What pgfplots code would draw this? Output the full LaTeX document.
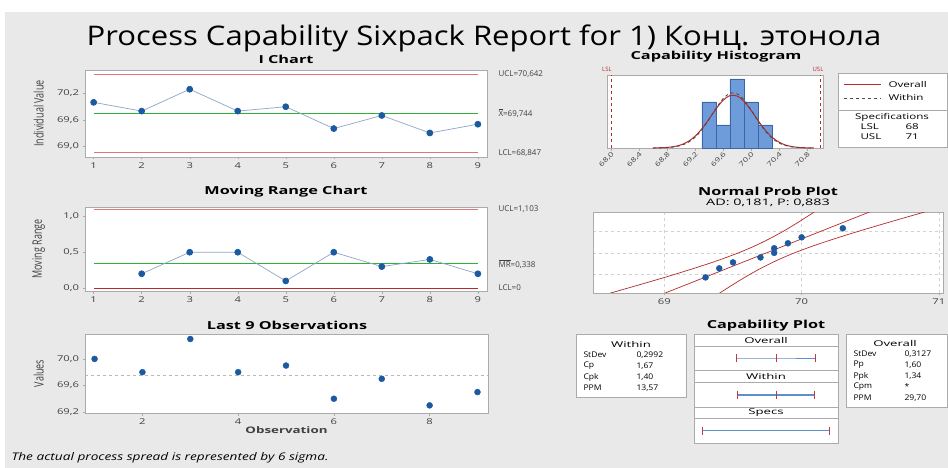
\documentclass[border=0pt]{standalone}
\usepackage{pgfplots}
\pgfplotsset{compat=1.18}
\usepackage{pgfplotstable}
\usepackage{graphicx}
\usepackage{fontspec}
\setmainfont{Open Sans}
\newfontfamily\titlefont{Open Sans}[FakeStretch=1.15]
\newfontfamily\panelfont{Open Sans}[FakeStretch=1.48]
\newfontfamily\tickfont{Open Sans}[FakeStretch=1.4]
\newfontfamily\legfont{Open Sans}[FakeStretch=1.45]
\newfontfamily\hdrfont{Open Sans}[FakeStretch=1.65]
\newfontfamily\notefont{Open Sans}[FakeStretch=1.3]
\newfontfamily\adfont{Open Sans}[FakeStretch=1.6]
\newfontfamily\statfont{Open Sans}[FakeStretch=1.1]

\definecolor{bgpanel}{RGB}{233,233,233}
\definecolor{framec}{RGB}{171,171,171}
\definecolor{ptc}{RGB}{27,90,160}
\definecolor{linkc}{RGB}{142,166,198}
\definecolor{limc}{RGB}{224,117,117}
\definecolor{meangreen}{RGB}{45,178,55}
\definecolor{barc}{RGB}{110,155,218}
\definecolor{baredge}{RGB}{63,100,163}
\definecolor{fitc}{RGB}{181,43,43}
\definecolor{withinc}{RGB}{74,74,74}
\definecolor{capc}{RGB}{94,143,203}
\definecolor{captick}{RGB}{194,59,59}
\definecolor{meanc}{RGB}{184,184,184}
\definecolor{tickc}{RGB}{64,64,64}

\newcommand{\ticksize}{\tickfont\fontsize{8}{9}\selectfont}
\newcommand{\limsize}{\fontsize{8}{9}\selectfont}
\newcommand{\ptitle}{\panelfont\fontsize{11}{12}\selectfont\bfseries}
\newcommand{\legt}{\legfont\fontsize{8}{9}\selectfont}
\newcommand{\hdrt}{\hdrfont\fontsize{8}{9}\selectfont}
\newcommand{\statt}{\statfont\fontsize{7.8}{9}\selectfont}
\newcommand{\ylab}[1]{\scalebox{1}[1.45]{#1}}

\pgfplotsset{
  panel/.style={
    scale only axis, anchor=north west,
    axis background/.style={fill=white},
    axis line style={framec},
    every tick/.style={framec},
    tick align=outside, tick pos=left,
    major tick length=2.5pt,
    ticklabel style={font=\ticksize, text=tickc},
    /pgf/number format/assume math mode=true,
    label style={font=\fontsize{9}{10}\selectfont, text=tickc},
  },
  onedec/.style={/pgf/number format/.cd, fixed, fixed zerofill, precision=1, use comma},
  ptmark/.style={mark=*, mark size=3pt, mark options={draw=ptc, fill=ptc}},
  centerline/.style={draw=meangreen, line width=1.2pt, mark=none},
}

% individual observations
\pgfplotstableread{
obs value
1 70.0
2 69.8
3 70.3
4 69.8
5 69.9
6 69.4
7 69.7
8 69.3
9 69.5
}\obsdata

% moving ranges of consecutive observations
\pgfplotstableread{
obs mr
2 0.2
3 0.5
4 0.5
5 0.1
6 0.5
7 0.3
8 0.4
9 0.2
}\mrdata

\begin{document}
\begin{tikzpicture}
% page background
\fill[white] (0pt,0pt) rectangle (948pt,-468pt);
\fill[bgpanel] (5pt,-12pt) rectangle (948pt,-468pt);

\node[font=\titlefont\fontsize{27}{31}\selectfont] at (484pt,-38pt)
  {Process Capability Sixpack Report for 1) Конц. этонола};

% ---------------- I chart ----------------
\node[font=\ptitle] at (286pt,-59pt) {I Chart};
\begin{axis}[panel, at={(85pt,-70pt)}, width=402pt, height=87pt,
  xmin=0.82, xmax=9.19, ymin=68.75, ymax=70.74,
  xtick={1,...,9}, ytick={69.0,69.6,70.2},
  yticklabel style={onedec},
  ylabel={\ylab{Individual Value}},
  ylabel style={at={(axis description cs:-0.115,0.5)}, anchor=center},
]
\addplot[draw=limc, line width=0.8pt, mark=none] coordinates {(1,70.642) (9,70.642)};
\addplot[draw=limc, line width=0.8pt, mark=none] coordinates {(1,68.847) (9,68.847)};
\addplot[centerline] coordinates {(1,69.744) (9,69.744)};
\addplot[draw=linkc, line width=0.7pt, ptmark] table[x=obs, y=value] {\obsdata};
\end{axis}
\node[font=\limsize, text=tickc, anchor=west] at (495pt,-74pt) {UCL=70,642};
\node[font=\limsize, text=tickc, anchor=west] at (495pt,-113pt) {$\overline{\mbox{X}}$=69,744};
\node[font=\limsize, text=tickc, anchor=west] at (495pt,-153pt) {LCL=68,847};

% ---------------- Moving range chart ----------------
\node[font=\ptitle] at (286pt,-192pt) {Moving Range Chart};
\begin{axis}[panel, at={(85pt,-207pt)}, width=402pt, height=84pt,
  xmin=0.82, xmax=9.19, ymin=-0.04, ymax=1.13,
  xtick={1,...,9}, ytick={0,0.5,1},
  yticklabel style={onedec},
  ylabel={\ylab{Moving Range}},
  ylabel style={at={(axis description cs:-0.115,0.5)}, anchor=center},
]
\addplot[draw=limc, line width=0.8pt, mark=none] coordinates {(1,1.103) (9,1.103)};
\addplot[draw=fitc, line width=0.8pt, mark=none] coordinates {(1,0) (9,0)};
\addplot[centerline] coordinates {(1,0.338) (9,0.338)};
\addplot[draw=linkc, line width=0.7pt, ptmark] table[x=obs, y=mr] {\mrdata};
\end{axis}
\node[font=\limsize, text=tickc, anchor=west] at (495pt,-209pt) {UCL=1,103};
\node[font=\limsize, text=tickc, anchor=west] at (495pt,-264pt) {$\overline{\mbox{MR}}$=0,338};
\node[font=\limsize, text=tickc, anchor=west] at (495pt,-288pt) {LCL=0};

% ---------------- Last 9 observations ----------------
\node[font=\ptitle] at (287pt,-325pt) {Last 9 Observations};
\begin{axis}[panel, at={(85pt,-334pt)}, width=403pt, height=79pt,
  xmin=0.8, xmax=9.22, ymin=69.185, ymax=70.375,
  xtick={2,4,6,8}, ytick={69.2,69.6,70.0},
  yticklabel style={onedec},
  ylabel={\ylab{Values}},
  ylabel style={at={(axis description cs:-0.115,0.5)}, anchor=center},
  xlabel={\panelfont\fontsize{9}{10}\selectfont\bfseries Observation},
  xlabel style={at={(axis description cs:0.5,-0.22)}, anchor=center},
]
\addplot[draw=meanc, dashed, line width=0.8pt, mark=none] coordinates {(0.8,69.744) (9.22,69.744)};
\addplot[only marks, ptmark] table[x=obs, y=value] {\obsdata};
\end{axis}

% ---------------- Capability histogram ----------------
\node[font=\ptitle] at (716pt,-57pt) {Capability Histogram};
\begin{axis}[panel, at={(607pt,-75pt)}, width=216pt, height=73pt,
  xmin=67.943, xmax=71.03, ymin=0, ymax=3.17,
  xtick={68,68.4,68.8,69.2,69.6,70,70.4,70.8}, ytick=\empty,
  xticklabel style={onedec, /tikz/rotate=45, /tikz/anchor=north east, /tikz/inner sep=0.3pt,
    /tikz/font=\tickfont\fontsize{6.5}{7}\selectfont},
]
\addplot[ybar, bar width=0.2, bar shift=0pt, fill=barc, draw=baredge, line width=0.6pt]
  coordinates {(69.4,2) (69.6,1) (69.8,3) (70.0,2) (70.2,1)};
\addplot[draw=fitc, line width=1pt, smooth, mark=none] coordinates {
 (68.6,0.0028) (68.7,0.0087) (68.8,0.0241) (68.9,0.0601) (69.0,0.1355)
 (69.1,0.2754) (69.2,0.5057) (69.3,0.8382) (69.4,1.2541) (69.5,1.6937)
 (69.6,2.0655) (69.7,2.2738) (69.8,2.2600) (69.9,2.0278) (70.0,1.6425)
 (70.1,1.2013) (70.2,0.7930) (70.3,0.4726) (70.4,0.2542) (70.5,0.1235)
 (70.6,0.0542) (70.7,0.0215) (70.8,0.0077) (70.9,0.0025)};
\addplot[draw=withinc, dashed, line width=0.8pt, smooth, mark=none] coordinates {
 (68.6,0.0016) (68.7,0.0055) (68.8,0.0165) (68.9,0.0449) (69.0,0.1090)
 (69.1,0.2367) (69.2,0.4597) (69.3,0.7981) (69.4,1.2394) (69.5,1.7211)
 (69.6,2.1375) (69.7,2.3742) (69.8,2.3583) (69.9,2.0951) (70.0,1.6645)
 (70.1,1.1826) (70.2,0.7513) (70.3,0.4268) (70.4,0.2170) (70.5,0.0986)
 (70.6,0.0401) (70.7,0.0146) (70.8,0.0047) (70.9,0.0014)};
\addplot[draw=fitc, dashed, line width=0.9pt, mark=none] coordinates {(68,0) (68,3.17)};
\addplot[draw=fitc, dashed, line width=0.9pt, mark=none] coordinates {(71,0) (71,3.17)};
\end{axis}
\node[font=\fontsize{6}{7}\selectfont, text=fitc] at (607pt,-69pt) {LSL};
\node[font=\fontsize{6}{7}\selectfont, text=fitc] at (818pt,-69pt) {USL};

% legend and specifications
\draw[framec, fill=white] (838pt,-73pt) rectangle (947pt,-147pt);
\draw[framec] (838pt,-110pt) -- (947pt,-110pt);
\draw[fitc, line width=1pt] (844pt,-85pt) -- (881pt,-85pt);
\draw[withinc, dashed, line width=0.8pt] (844pt,-98pt) -- (881pt,-98pt);
\node[font=\legt, anchor=west] at (885pt,-85pt) {Overall};
\node[font=\legt, anchor=west] at (885pt,-98pt) {Within};
\node[font=\legt] at (892pt,-117pt) {Specifications};
\node[font=\legt, anchor=west] at (857pt,-127pt) {LSL};
\node[font=\legt, anchor=west] at (902pt,-127pt) {68};
\node[font=\legt, anchor=west] at (857pt,-137pt) {USL};
\node[font=\legt, anchor=west] at (902pt,-137pt) {71};

% ---------------- Normal probability plot ----------------
\node[font=\ptitle] at (768pt,-191pt) {Normal Prob Plot};
\node[font=\adfont\fontsize{9}{10}\selectfont] at (768pt,-203pt) {AD: 0,181, P: 0,883};
\begin{axis}[panel, at={(593pt,-212pt)}, width=350pt, height=81pt,
  xmin=68.48, xmax=71.03, ymin=-2.36, ymax=2.4,
  xtick={69,70,71}, ytick={-1.2816,0,1.2816}, yticklabels={},
  ytick style={draw=none},
  grid=major, major grid style={dashed, gray!35},
]
\addplot[draw=fitc, line width=0.7pt, smooth, mark=none] coordinates {
 (68.592,-2.4) (68.765,-2.0) (68.936,-1.6) (69.101,-1.2) (69.259,-0.8)
 (69.407,-0.4) (69.540,0) (69.657,0.4) (69.759,0.8) (69.851,1.2)
 (69.936,1.6) (70.015,2.0) (70.092,2.4)};
\addplot[draw=fitc, line width=0.7pt, mark=none] coordinates {(68.994,-2.4) (70.494,2.4)};
\addplot[draw=fitc, line width=0.7pt, smooth, mark=none] coordinates {
 (69.396,-2.4) (69.473,-2.0) (69.553,-1.6) (69.637,-1.2) (69.729,-0.8)
 (69.831,-0.4) (69.948,0) (70.081,0.4) (70.229,0.8) (70.387,1.2)
 (70.553,1.6) (70.723,2.0) (70.896,2.4)};
\addplot[only marks, ptmark] coordinates {
 (69.3,-1.443) (69.4,-0.912) (69.5,-0.561) (69.7,-0.269) (69.8,0)
 (69.8,0.269) (69.9,0.561) (70.0,0.912) (70.3,1.443)};
\end{axis}

% ---------------- Capability plot ----------------
\node[font=\ptitle] at (766pt,-326pt) {Capability Plot};
\begin{axis}[panel, at={(694pt,-334pt)}, width=144pt, height=109pt,
  xmin=67.81, xmax=71.21, ymin=0, ymax=109, y dir=reverse,
  ticks=none, clip=false,
]
\draw[framec] (axis cs:67.81,12) -- (axis cs:71.21,12);
\draw[framec] (axis cs:67.81,36) -- (axis cs:71.21,36);
\draw[framec] (axis cs:67.81,48) -- (axis cs:71.21,48);
\draw[framec] (axis cs:67.81,73) -- (axis cs:71.21,73);
\draw[framec] (axis cs:67.81,84) -- (axis cs:71.21,84);
\node[font=\hdrt] at (axis cs:69.51,6) {Overall};
\node[font=\hdrt] at (axis cs:69.51,42) {Within};
\node[font=\hdrt] at (axis cs:69.51,78.5) {Specs};
\addplot[draw=capc, line width=0.8pt, mark=|, mark size=4pt, mark options={draw=captick, line width=0.8pt}]
  coordinates {(68.806,24) (69.744,24) (70.682,24)};
\addplot[draw=capc, line width=2pt, mark=|, mark size=4pt, mark options={draw=captick, line width=0.8pt}]
  coordinates {(68.846,60.5) (69.744,60.5) (70.642,60.5)};
\addplot[draw=capc, line width=0.8pt, mark=|, mark size=4pt, mark options={draw=captick, line width=0.8pt}]
  coordinates {(68,96.5) (71,96.5)};
\end{axis}

% within statistics
\draw[framec, fill=white] (576pt,-334pt) rectangle (686pt,-397pt);
\node[font=\hdrt] at (631pt,-344pt) {Within};
\node[font=\statt, anchor=west] at (580pt,-355pt) {StDev};
\node[font=\statt, anchor=west] at (580pt,-366pt) {Cp};
\node[font=\statt, anchor=west] at (580pt,-377pt) {Cpk};
\node[font=\statt, anchor=west] at (580pt,-388pt) {PPM};
\node[font=\statt, anchor=west] at (633pt,-355pt) {0,2992};
\node[font=\statt, anchor=west] at (633pt,-366pt) {1,67};
\node[font=\statt, anchor=west] at (633pt,-377pt) {1,40};
\node[font=\statt, anchor=west] at (633pt,-388pt) {13,57};

% overall statistics
\draw[framec, fill=white] (846pt,-334pt) rectangle (947pt,-407pt);
\node[font=\hdrt] at (895pt,-343pt) {Overall};
\node[font=\statt, anchor=west] at (850pt,-354pt) {StDev};
\node[font=\statt, anchor=west] at (850pt,-365pt) {Pp};
\node[font=\statt, anchor=west] at (850pt,-376pt) {Ppk};
\node[font=\statt, anchor=west] at (850pt,-387pt) {Cpm};
\node[font=\statt, anchor=west] at (850pt,-398pt) {PPM};
\node[font=\statt, anchor=west] at (901pt,-354pt) {0,3127};
\node[font=\statt, anchor=west] at (901pt,-365pt) {1,60};
\node[font=\statt, anchor=west] at (901pt,-376pt) {1,34};
\node[font=\statt, anchor=west] at (901pt,-387pt) {*};
\node[font=\statt, anchor=west] at (901pt,-398pt) {29,70};

\node[font=\notefont\fontsize{10.5}{12}\selectfont\itshape, anchor=west] at (8pt,-458pt)
  {The actual process spread is represented by 6 sigma.};

\pgfresetboundingbox
\useasboundingbox (0pt,0pt) rectangle (948pt,-468pt);
\end{tikzpicture}
\end{document}
